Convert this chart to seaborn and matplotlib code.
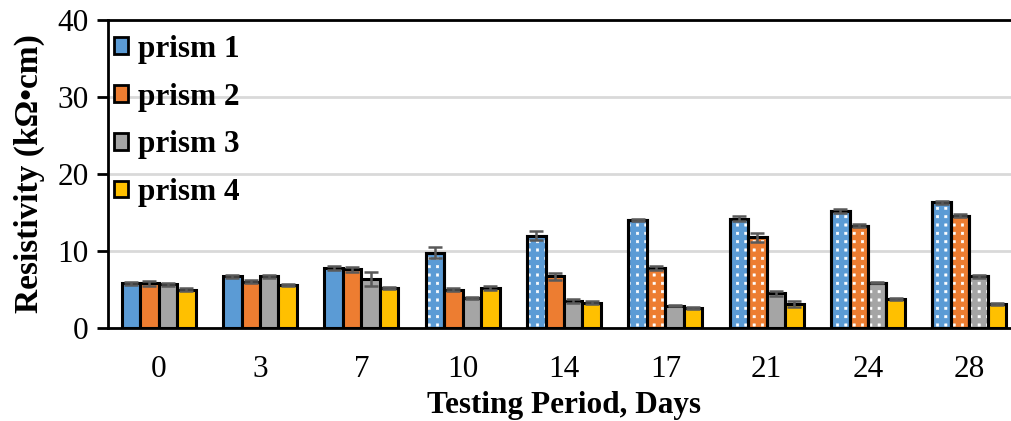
import matplotlib
matplotlib.use("Agg")
import matplotlib.pyplot as plt
import matplotlib.hatch as mhatch
from matplotlib.path import Path
from matplotlib.patches import Rectangle
import numpy as np
import pandas as pd
import seaborn as sns

# Testing days (categories)
days = ["0", "3", "7", "10", "14", "17", "21", "24", "28"]
prisms = ["prism 1", "prism 2", "prism 3", "prism 4"]

# Mean resistivity, kΩ·cm
prism1 = [5.8, 6.7, 7.8, 9.8, 12.0, 14.0, 14.2, 15.2, 16.3]
prism2 = [5.8, 6.0, 7.6, 5.0, 6.7, 7.8, 11.8, 13.3, 14.6]
prism3 = [5.7, 6.7, 6.4, 3.9, 3.5, 2.9, 4.5, 5.9, 6.7]
prism4 = [5.0, 5.6, 5.2, 5.2, 3.3, 2.6, 3.1, 3.8, 3.1]

# Standard deviation
err1 = [0.2, 0.2, 0.3, 0.7, 0.6, 0.1, 0.3, 0.2, 0.2]
err2 = [0.35, 0.2, 0.3, 0.15, 0.5, 0.3, 0.6, 0.2, 0.2]
err3 = [0.2, 0.2, 0.9, 0.15, 0.25, 0.1, 0.3, 0.1, 0.2]
err4 = [0.25, 0.1, 0.15, 0.2, 0.2, 0.15, 0.4, 0.1, 0.15]

# Readings flagged with a dotted fill
flag1 = [False, False, False, True, True, True, True, True, True]
flag2 = [False, False, False, False, False, True, True, True, True]
flag3 = [False, False, False, False, False, False, False, True, True]
flag4 = [False] * 9

values = [prism1, prism2, prism3, prism4]
errors = [err1, err2, err3, err4]
flags = [flag1, flag2, flag3, flag4]
colors = ["#5B9BD5", "#ED7D31", "#A5A5A5", "#FFC000"]


class DotGrid(mhatch.HatchPatternBase):
    """'.' hatch drawn as small filled squares on a regular (non-staggered) grid."""

    def __init__(self, hatch, density):
        self.num_rows = hatch.count('.') * density
        sq = Path.unit_rectangle()
        self.shape_vertices = sq.vertices - 0.5
        self.shape_codes = sq.codes
        n = len(self.shape_vertices)
        self.num_vertices = (self.num_rows + 1) ** 2 * n if self.num_rows else 0

    def set_vertices_and_codes(self, vertices, codes):
        offset = 1.0 / self.num_rows
        sv = self.shape_vertices * offset * 0.28
        n = len(sv)
        cursor = 0
        for r in range(self.num_rows + 1):
            for c in range(self.num_rows + 1):
                vertices[cursor:cursor + n] = sv + ((c + 0.5) * offset, r * offset)
                codes[cursor:cursor + n] = self.shape_codes
                cursor += n


mhatch._hatch_types = [DotGrid if t is mhatch.SmallFilledCircles else t
                       for t in mhatch._hatch_types]

df = pd.DataFrame({
    "day": np.tile(days, len(prisms)),
    "prism": np.repeat(prisms, len(days)),
    "value": np.concatenate(values),
})

sns.set_theme(style="white")
plt.rcParams["font.family"] = ["Liberation Serif", "DejaVu Serif"]
plt.rcParams["hatch.linewidth"] = 0.4
for key in ["text.color", "axes.labelcolor", "xtick.color", "ytick.color"]:
    plt.rcParams[key] = "black"

fig = plt.figure(figsize=(10.11, 4.21), dpi=100)
ax = fig.add_axes([108 / 1011, 93 / 421, 912 / 1011, 308 / 421])

sns.barplot(data=df, x="day", y="value", hue="prism", order=days,
            hue_order=prisms, palette=colors, width=0.73, errorbar=None,
            edgecolor="black", linewidth=2.2, saturation=1, ax=ax, zorder=3)

for cont, errs, flg in zip(ax.containers, errors, flags):
    xs = []
    ys = []
    for bar, f in zip(cont, flg):
        xs.append(bar.get_x() + bar.get_width() / 2)
        ys.append(bar.get_height())
        if f:
            # white dot pattern, then the black outline again on top of it
            ax.add_patch(Rectangle((bar.get_x(), 0), bar.get_width(),
                                   bar.get_height(), fill=False, hatch="..",
                                   edgecolor="white", linewidth=0, zorder=3.3))
            ax.add_patch(Rectangle((bar.get_x(), 0), bar.get_width(),
                                   bar.get_height(), fill=False,
                                   edgecolor="black", linewidth=2.2,
                                   zorder=3.4))
    ax.errorbar(xs, ys, yerr=errs, fmt="none", ecolor="#595959",
                elinewidth=1.8, capsize=5, capthick=1.8, zorder=4)

ax.set_ylim(0, 40)
ax.set_xlim(-0.5, len(days) - 0.5)
ax.set_yticks([0, 10, 20, 30, 40])
ax.yaxis.grid(True, color="#D9D9D9", linewidth=2, zorder=0)
ax.set_axisbelow(True)

for side in ["left", "bottom", "top"]:
    ax.spines[side].set_visible(True)
    ax.spines[side].set_color("black")
    ax.spines[side].set_linewidth(2)
ax.spines["right"].set_visible(False)

ax.tick_params(axis="y", which="major", left=True, length=8, width=2,
               color="black", labelsize=22.5, pad=6, direction="out")
ax.tick_params(axis="x", bottom=False, labelsize=22.5, pad=13.5)

ax.set_xlabel("Testing Period, Days", fontsize=22.5, fontweight="bold",
              labelpad=5)
ax.set_ylabel("Resistivity (kΩ•cm)", fontsize=24, fontweight="bold",
              labelpad=9)

leg = ax.legend(loc="upper left", frameon=False,
                prop={"weight": "bold", "size": 22.5},
                handlelength=0.45, handleheight=0.45, handletextpad=0.3,
                labelspacing=0.6, borderpad=0, borderaxespad=0.2,
                bbox_to_anchor=(0.0, 0.972))
for h in leg.legend_handles:
    h.set_edgecolor("black")
    h.set_linewidth(2)

fig.savefig("out.png", dpi=100)
